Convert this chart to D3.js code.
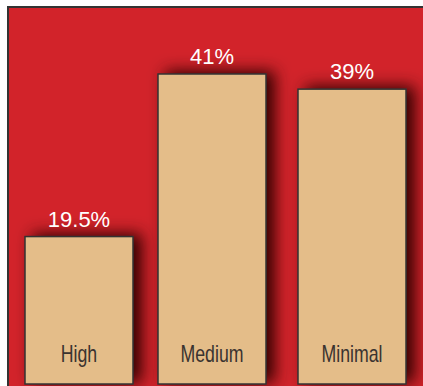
<!DOCTYPE html>
<html>
<head>
<meta charset="utf-8">
<script src="https://cdn.jsdelivr.net/npm/d3@7"></script>
<style>
  html, body { margin: 0; padding: 0; background: #fff; }
</style>
</head>
<body>
<script>
// chart data
const categories = ["High", "Medium", "Minimal"];
const values = [19.5, 41, 39];
const valueLabels = ["19.5%", "41%", "39%"];

const W = 423, H = 386;
const baseY = 384;
const barW = 108;

const svg = d3.select("body").append("svg")
    .attr("width", W)
    .attr("height", H);

// drop shadow for the bars
const defs = svg.append("defs");
const f = defs.append("filter").attr("id", "shadow")
    .attr("x", "-50%").attr("y", "-50%").attr("width", "200%").attr("height", "200%");
f.append("feDropShadow")
    .attr("dx", 8).attr("dy", -2)
    .attr("stdDeviation", 8)
    .attr("flood-color", "#300000")
    .attr("flood-opacity", 1);

// red panel
svg.append("rect")
    .attr("x", 8).attr("y", 7)
    .attr("width", W).attr("height", H)
    .attr("fill", "#d2232a")
    .attr("stroke", "#333")
    .attr("stroke-width", 2);

// the bars are not evenly spaced in the original, so an ordinal scale holds the left edges
const x = d3.scaleOrdinal()
    .domain(categories)
    .range([25, 158, 298]);

const y = d3.scaleLinear()
    .domain([0, 41])
    .range([baseY, 74]);

const g = svg.append("g");

g.selectAll("rect.bar")
    .data(values)
    .join("rect")
    .attr("class", "bar")
    .attr("x", (d, i) => x(categories[i]))
    .attr("y", d => y(d))
    .attr("width", barW)
    .attr("height", d => baseY - y(d))
    .attr("fill", "#e4bd89")
    .attr("stroke", "#333")
    .attr("stroke-width", 1.5)
    .attr("filter", "url(#shadow)");

// value labels
g.selectAll("text.val")
    .data(values)
    .join("text")
    .attr("class", "val")
    .attr("x", (d, i) => x(categories[i]) + barW / 2)
    .attr("y", d => y(d) - 10)
    .attr("text-anchor", "middle")
    .attr("font-family", "'Liberation Sans', Arial, sans-serif")
    .attr("font-size", 22)
    .attr("fill", "#fff")
    .text((d, i) => valueLabels[i]);

// category labels (condensed)
g.selectAll("text.cat")
    .data(categories)
    .join("text")
    .attr("class", "cat")
    .attr("transform", d => `translate(${x(d) + barW / 2},362) scale(0.77,1)`)
    .attr("text-anchor", "middle")
    .attr("font-family", "'Liberation Sans', Arial, sans-serif")
    .attr("font-size", 23)
    .attr("fill", "#3a3330")
    .text(d => d);
</script>
</body>
</html>
